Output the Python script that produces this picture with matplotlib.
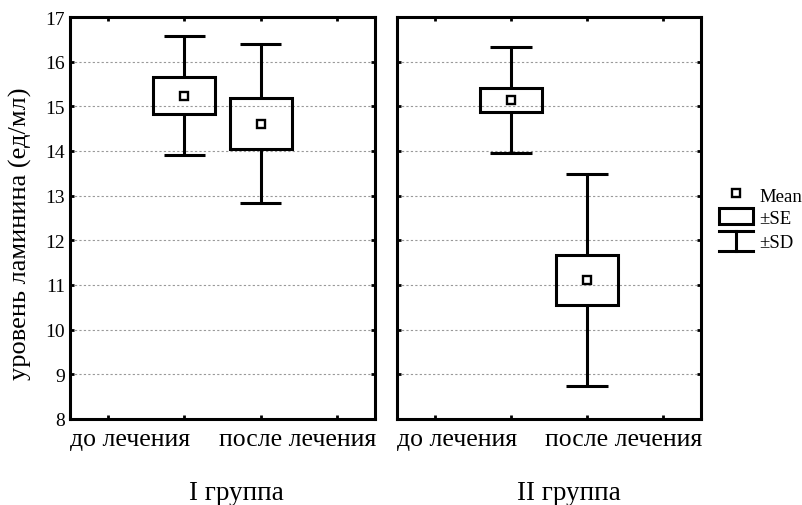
import matplotlib
matplotlib.use("Agg")
import matplotlib.pyplot as plt
from matplotlib.patches import Rectangle
from matplotlib.lines import Line2D

plt.rcParams["font.family"] = ["Liberation Serif", "DejaVu Serif"]

# Mean, ±SE, ±SD of laminin level per group
CATEGORIES = ["до лечения", "после лечения"]
GROUPS = ["I группа", "II группа"]
MEANS = [[15.24, 14.61], [15.14, 11.12]]
SE = [[0.42, 0.57], [0.27, 0.56]]
SD = [[1.33, 1.78], [1.18, 2.37]]
POSITIONS = [2, 3]
YTICKS = list(range(8, 18))

LW = 2.2
BOX_W = 0.81
CAP_W = 0.54

fig = plt.figure(figsize=(8.03, 5.06), dpi=100)
ax_left = fig.add_axes([70 / 803, 86 / 506, 305 / 803, 402 / 506])
ax_right = fig.add_axes([397 / 803, 86 / 506, 304 / 803, 402 / 506])

# group captions sit a bit right of each panel's centre
group_x = [236 / 803, 569 / 803]

for gi, ax in enumerate([ax_left, ax_right]):
    ax.set_xlim(0.5, 4.5)
    ax.set_ylim(8, 17)
    ax.set_xticks([1, 2, 3, 4])
    ax.set_yticks(YTICKS)
    ax.tick_params(axis="both", direction="in", top=True, right=True,
                   length=3, width=2, labelbottom=False, labelsize=14)
    if gi == 1:
        ax.tick_params(axis="y", labelleft=False)
    for sp in ax.spines.values():
        sp.set_linewidth(LW)
    for y in YTICKS[1:-1]:
        ax.axhline(y, color="#999999", lw=0.8, ls=(0, (2, 2)), zorder=0)

    for pos, m, se, sd in zip(POSITIONS, MEANS[gi], SE[gi], SD[gi]):
        ax.add_patch(Rectangle((pos - BOX_W / 2, m - se), BOX_W, 2 * se,
                               fill=False, lw=LW, ec="black", zorder=3))
        ax.vlines(pos, m + se, m + sd, color="black", lw=LW, zorder=3)
        ax.vlines(pos, m - sd, m - se, color="black", lw=LW, zorder=3)
        ax.hlines([m + sd, m - sd], pos - CAP_W / 2, pos + CAP_W / 2,
                  color="black", lw=LW, zorder=3)
        ax.plot(pos, m, marker="s", ms=5.5, mfc="white", mec="black",
                mew=1.7, zorder=4)

    ax.text(0.0, -0.022, CATEGORIES[0], transform=ax.transAxes,
            ha="left", va="top", fontsize=18.5)
    ax.text(1.005, -0.022, CATEGORIES[1], transform=ax.transAxes,
            ha="right", va="top", fontsize=18.5)
    fig.text(group_x[gi], 1 - 481 / 506, GROUPS[gi],
             ha="center", va="top", fontsize=19.5)

ax_left.set_ylabel("уровень ламинина (ед/мл)", fontsize=19)
ax_left.yaxis.set_label_coords(-0.125, 0.463)

# legend drawn in pixel coordinates
leg = fig.add_axes([0, 0, 1, 1], zorder=5)
leg.set_xlim(0, 803)
leg.set_ylim(506, 0)
leg.axis("off")
leg.plot(736, 194, marker="s", ms=5.5, mfc="white", mec="black", mew=1.7)
leg.text(759, 197, "Mean", fontsize=13.5, va="center", ha="left")
leg.add_patch(Rectangle((719, 209), 34, 16, fill=False, lw=LW, ec="black"))
leg.text(759, 220, "±SE", fontsize=13.5, va="center", ha="left")
leg.add_line(Line2D([719, 753], [232, 232], lw=LW, color="black"))
leg.add_line(Line2D([719, 753], [252, 252], lw=LW, color="black"))
leg.add_line(Line2D([736, 736], [232, 252], lw=LW, color="black"))
leg.text(759, 243, "±SD", fontsize=13.5, va="center", ha="left")

fig.savefig("out.png", dpi=100)
